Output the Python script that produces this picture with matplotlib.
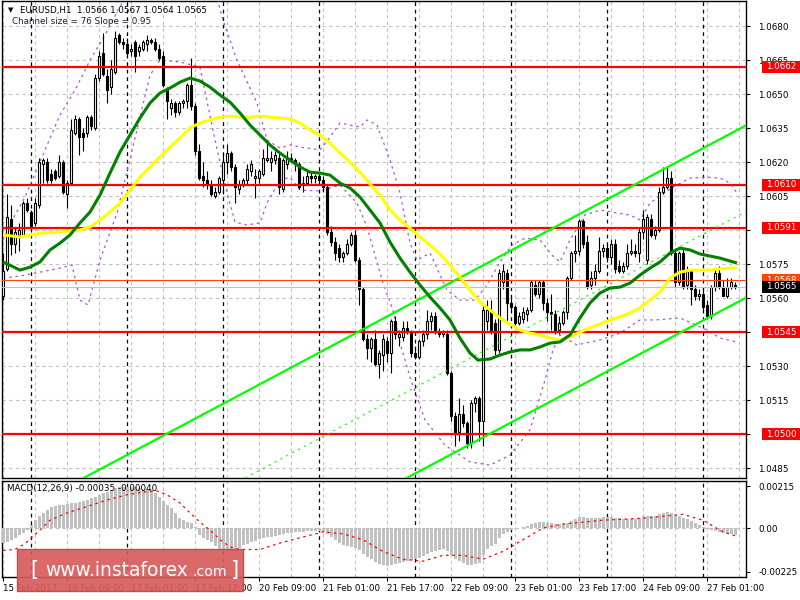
import matplotlib
matplotlib.use("Agg")
import matplotlib.pyplot as plt
import matplotlib.transforms as mtransforms
from matplotlib.patches import Rectangle
import numpy as np

# EURUSD H1, 15 Feb 2017 17:00 .. 27 Feb 2017 08:00
opens = [
    1.0561, 1.0573, 1.0595, 1.0584, 1.0588, 1.0588, 1.0602, 1.0598, 1.0593, 1.0601,
    1.0619, 1.0620, 1.0615, 1.0616, 1.0614, 1.0620, 1.0606, 1.0611, 1.0633, 1.0639,
    1.0633, 1.0633, 1.0640, 1.0635, 1.0657, 1.0668, 1.0658, 1.0653, 1.0660, 1.0676,
    1.0673, 1.0672, 1.0669, 1.0673, 1.0669, 1.0670, 1.0672, 1.0674, 1.0673, 1.0670,
    1.0667, 1.0652, 1.0644, 1.0646, 1.0642, 1.0646, 1.0647, 1.0654, 1.0645, 1.0625,
    1.0614, 1.0612, 1.0610, 1.0605, 1.0607, 1.0612, 1.0620, 1.0624, 1.0618, 1.0608,
    1.0610, 1.0612, 1.0616, 1.0613, 1.0613, 1.0615, 1.0621, 1.0620, 1.0621, 1.0622,
    1.0608, 1.0619, 1.0622, 1.0621, 1.0619, 1.0610, 1.0611, 1.0614, 1.0613, 1.0614,
    1.0612, 1.0609, 1.0589, 1.0585, 1.0582, 1.0578, 1.0580, 1.0584, 1.0588, 1.0577,
    1.0564, 1.0542, 1.0538, 1.0542, 1.0531, 1.0535, 1.0541, 1.0536, 1.0550, 1.0543,
    1.0543, 1.0547, 1.0545, 1.0536, 1.0534, 1.0541, 1.0544, 1.0550, 1.0552, 1.0545,
    1.0544, 1.0544, 1.0527, 1.0508, 1.0501, 1.0509, 1.0505, 1.0496, 1.0514, 1.0516,
    1.0506, 1.0550, 1.0555, 1.0549, 1.0537, 1.0567, 1.0571, 1.0558, 1.0556, 1.0549,
    1.0551, 1.0553, 1.0555, 1.0566, 1.0562, 1.0567, 1.0558, 1.0554, 1.0553, 1.0546,
    1.0549, 1.0554, 1.0569, 1.0580, 1.0581, 1.0594, 1.0585, 1.0566, 1.0569, 1.0572,
    1.0581, 1.0582, 1.0578, 1.0584, 1.0574, 1.0572, 1.0574, 1.0580, 1.0581, 1.0580,
    1.0589, 1.0577, 1.0595, 1.0588, 1.0590, 1.0607, 1.0609, 1.0613, 1.0580, 1.0567,
    1.0580, 1.0566, 1.0572, 1.0564, 1.0561, 1.0562, 1.0557, 1.0552, 1.0565, 1.0571,
    1.0565, 1.0561, 1.0565, 1.0566,
]
highs = [
    1.0580, 1.0606, 1.0601, 1.0591, 1.0593, 1.0603, 1.0604, 1.0599, 1.0604, 1.0622,
    1.0622, 1.0622, 1.0617, 1.0617, 1.0623, 1.0621, 1.0612, 1.0639, 1.0641, 1.0640,
    1.0635, 1.0641, 1.0641, 1.0659, 1.0669, 1.0677, 1.0661, 1.0665, 1.0678, 1.0677,
    1.0675, 1.0675, 1.0672, 1.0674, 1.0672, 1.0674, 1.0676, 1.0675, 1.0675, 1.0672,
    1.0669, 1.0653, 1.0648, 1.0647, 1.0647, 1.0648, 1.0655, 1.0666, 1.0646, 1.0628,
    1.0620, 1.0616, 1.0612, 1.0609, 1.0614, 1.0624, 1.0628, 1.0625, 1.0619, 1.0612,
    1.0613, 1.0619, 1.0621, 1.0617, 1.0617, 1.0626, 1.0630, 1.0625, 1.0625, 1.0624,
    1.0622, 1.0625, 1.0624, 1.0622, 1.0620, 1.0614, 1.0616, 1.0616, 1.0615, 1.0615,
    1.0614, 1.0610, 1.0592, 1.0587, 1.0584, 1.0581, 1.0586, 1.0589, 1.0590, 1.0578,
    1.0565, 1.0544, 1.0543, 1.0546, 1.0537, 1.0544, 1.0543, 1.0551, 1.0552, 1.0546,
    1.0550, 1.0550, 1.0546, 1.0539, 1.0542, 1.0546, 1.0555, 1.0554, 1.0554, 1.0547,
    1.0546, 1.0546, 1.0528, 1.0510, 1.0516, 1.0513, 1.0506, 1.0515, 1.0517, 1.0517,
    1.0557, 1.0559, 1.0559, 1.0551, 1.0573, 1.0575, 1.0573, 1.0560, 1.0557, 1.0554,
    1.0556, 1.0556, 1.0568, 1.0568, 1.0568, 1.0568, 1.0560, 1.0562, 1.0555, 1.0552,
    1.0555, 1.0570, 1.0581, 1.0588, 1.0595, 1.0595, 1.0588, 1.0572, 1.0575, 1.0587,
    1.0584, 1.0584, 1.0586, 1.0586, 1.0577, 1.0576, 1.0584, 1.0586, 1.0584, 1.0591,
    1.0599, 1.0597, 1.0597, 1.0592, 1.0609, 1.0618, 1.0618, 1.0616, 1.0581, 1.0581,
    1.0582, 1.0574, 1.0573, 1.0566, 1.0564, 1.0565, 1.0559, 1.0566, 1.0573, 1.0574,
    1.0568, 1.0569, 1.0569, 1.0567,
]
lows = [
    1.0559, 1.0572, 1.0579, 1.0580, 1.0581, 1.0587, 1.0598, 1.0589, 1.0592, 1.0600,
    1.0611, 1.0611, 1.0611, 1.0612, 1.0613, 1.0606, 1.0600, 1.0610, 1.0632, 1.0623,
    1.0625, 1.0631, 1.0634, 1.0634, 1.0656, 1.0658, 1.0646, 1.0650, 1.0659, 1.0672,
    1.0670, 1.0667, 1.0667, 1.0660, 1.0667, 1.0669, 1.0669, 1.0672, 1.0669, 1.0665,
    1.0653, 1.0639, 1.0641, 1.0640, 1.0641, 1.0644, 1.0644, 1.0643, 1.0623, 1.0612,
    1.0609, 1.0608, 1.0605, 1.0604, 1.0606, 1.0606, 1.0615, 1.0616, 1.0602, 1.0606,
    1.0609, 1.0610, 1.0614, 1.0604, 1.0611, 1.0614, 1.0620, 1.0616, 1.0619, 1.0606,
    1.0607, 1.0617, 1.0620, 1.0616, 1.0608, 1.0607, 1.0610, 1.0611, 1.0611, 1.0610,
    1.0607, 1.0588, 1.0583, 1.0577, 1.0576, 1.0576, 1.0579, 1.0583, 1.0576, 1.0557,
    1.0541, 1.0533, 1.0532, 1.0530, 1.0525, 1.0528, 1.0532, 1.0527, 1.0542, 1.0539,
    1.0541, 1.0544, 1.0534, 1.0533, 1.0533, 1.0539, 1.0542, 1.0546, 1.0544, 1.0543,
    1.0543, 1.0526, 1.0506, 1.0495, 1.0497, 1.0503, 1.0494, 1.0494, 1.0510, 1.0497,
    1.0495, 1.0546, 1.0544, 1.0535, 1.0536, 1.0564, 1.0550, 1.0555, 1.0548, 1.0548,
    1.0549, 1.0550, 1.0554, 1.0561, 1.0560, 1.0555, 1.0550, 1.0546, 1.0544, 1.0544,
    1.0548, 1.0551, 1.0568, 1.0576, 1.0579, 1.0582, 1.0564, 1.0564, 1.0566, 1.0571,
    1.0578, 1.0576, 1.0575, 1.0571, 1.0571, 1.0571, 1.0573, 1.0579, 1.0578, 1.0576,
    1.0586, 1.0575, 1.0587, 1.0586, 1.0589, 1.0606, 1.0608, 1.0579, 1.0565, 1.0566,
    1.0564, 1.0564, 1.0557, 1.0559, 1.0559, 1.0555, 1.0551, 1.0551, 1.0563, 1.0564,
    1.0561, 1.0560, 1.0564, 1.0564,
]
closes = [
    1.0572, 1.0596, 1.0584, 1.0589, 1.0590, 1.0602, 1.0599, 1.0592, 1.0602, 1.0620,
    1.0621, 1.0612, 1.0612, 1.0613, 1.0620, 1.0607, 1.0611, 1.0634, 1.0639, 1.0631,
    1.0631, 1.0640, 1.0636, 1.0657, 1.0667, 1.0659, 1.0652, 1.0661, 1.0675, 1.0673,
    1.0672, 1.0668, 1.0670, 1.0667, 1.0671, 1.0673, 1.0674, 1.0673, 1.0670, 1.0666,
    1.0654, 1.0647, 1.0646, 1.0642, 1.0646, 1.0647, 1.0654, 1.0645, 1.0625, 1.0613,
    1.0612, 1.0610, 1.0606, 1.0607, 1.0613, 1.0620, 1.0624, 1.0618, 1.0609, 1.0610,
    1.0612, 1.0617, 1.0619, 1.0614, 1.0616, 1.0622, 1.0622, 1.0622, 1.0623, 1.0609,
    1.0621, 1.0622, 1.0621, 1.0619, 1.0609, 1.0611, 1.0614, 1.0613, 1.0614, 1.0612,
    1.0609, 1.0589, 1.0585, 1.0580, 1.0578, 1.0580, 1.0584, 1.0588, 1.0577, 1.0564,
    1.0542, 1.0538, 1.0542, 1.0531, 1.0536, 1.0542, 1.0536, 1.0550, 1.0544, 1.0544,
    1.0547, 1.0545, 1.0536, 1.0534, 1.0541, 1.0544, 1.0550, 1.0552, 1.0545, 1.0544,
    1.0545, 1.0527, 1.0508, 1.0501, 1.0509, 1.0505, 1.0496, 1.0514, 1.0516, 1.0506,
    1.0555, 1.0555, 1.0545, 1.0537, 1.0571, 1.0572, 1.0558, 1.0556, 1.0549, 1.0552,
    1.0554, 1.0555, 1.0567, 1.0562, 1.0567, 1.0558, 1.0554, 1.0553, 1.0546, 1.0549,
    1.0554, 1.0569, 1.0580, 1.0581, 1.0594, 1.0584, 1.0565, 1.0569, 1.0572, 1.0581,
    1.0582, 1.0578, 1.0584, 1.0573, 1.0572, 1.0574, 1.0580, 1.0581, 1.0580, 1.0589,
    1.0595, 1.0596, 1.0588, 1.0590, 1.0607, 1.0609, 1.0613, 1.0580, 1.0567, 1.0580,
    1.0565, 1.0572, 1.0564, 1.0561, 1.0562, 1.0556, 1.0552, 1.0565, 1.0571, 1.0565,
    1.0561, 1.0565, 1.0567, 1.0565,
]

# moving averages (bar position, price)
green_ma_at = [0, 4.25, 6.75, 9.25, 11.75, 14.25, 16.75, 19.25, 21.75, 24.25,
               26.75, 29.25, 31.75, 34.25, 36.75, 39.25, 41.75, 44.25, 46.75, 49.25,
               51.75, 54.25, 56.75, 59.25, 61.75, 64.25, 66.75, 69.25, 71.75, 74.25,
               76.75, 79.25, 81.75, 84.25, 86.75, 89.25, 91.75, 94.25, 96.75, 99.25,
               101.75, 104.25, 106.75, 109.25, 111.75, 114.25, 116.75, 118.75, 121.75, 124.25,
               126.75, 129.25, 131.75, 134.25, 136.75, 139.25, 141.75, 144.25, 146.75, 149.25,
               151.75, 154.25, 156.75, 159.25, 161.75, 164.25, 166.75, 169.25, 171.75, 174.25,
               176.75, 179.25, 181.75, 183.5]
green_ma = [1.05760, 1.05724, 1.05737, 1.05760, 1.05813, 1.05843, 1.05879, 1.05932, 1.05980, 1.06055,
            1.06152, 1.06245, 1.06320, 1.06395, 1.06461, 1.06505, 1.06527, 1.06553, 1.06571, 1.06558,
            1.06531, 1.06496, 1.06465, 1.06417, 1.06364, 1.06320, 1.06276, 1.06240, 1.06209, 1.06179,
            1.06156, 1.06152, 1.06143, 1.06108, 1.06086, 1.06046, 1.05989, 1.05932, 1.05848, 1.05777,
            1.05715, 1.05658, 1.05605, 1.05557, 1.05504, 1.05424, 1.05358, 1.05327, 1.05332, 1.05349,
            1.05363, 1.05372, 1.05372, 1.05385, 1.05402, 1.05407, 1.05438, 1.05513, 1.05579, 1.05623,
            1.05645, 1.05649, 1.05667, 1.05702, 1.05733, 1.05760, 1.05799, 1.05821, 1.05813, 1.05795,
            1.05786, 1.05777, 1.05764, 1.05755]

yellow_ma_at = [0, 4.25, 9.25, 14.25, 19.25, 21.75, 24.25, 26.75, 29.25, 31.75,
                34.25, 36.75, 39.25, 41.75, 44.25, 46.75, 49.25, 51.75, 54.25, 56.75,
                59.25, 61.75, 64.25, 66.75, 69.25, 71.75, 74.25, 76.75, 79.25, 81.75,
                84.25, 86.75, 89.25, 91.75, 94.25, 96.75, 99.25, 101.75, 104.25, 106.75,
                109.25, 111.75, 114.25, 116.75, 119.25, 121.75, 124.25, 126.75, 129.25, 131.75,
                134.25, 136.75, 139.25, 141.75, 144.25, 146.75, 149.25, 151.75, 154.25, 156.75,
                159.25, 161.75, 164.25, 166.75, 169.25, 171.75, 174.25, 176.75, 179.25, 181.75,
                183.5]
yellow_ma = [1.05879, 1.05870, 1.05887, 1.05892, 1.05901, 1.05914, 1.05945, 1.05980, 1.06020, 1.06077,
             1.06134, 1.06179, 1.06223, 1.06267, 1.06306, 1.06351, 1.06373, 1.06386, 1.06399, 1.06403,
             1.06399, 1.06399, 1.06403, 1.06399, 1.06395, 1.06390, 1.06373, 1.06342, 1.06320, 1.06284,
             1.06240, 1.06201, 1.06156, 1.06104, 1.06055, 1.05989, 1.05945, 1.05909, 1.05870, 1.05835,
             1.05795, 1.05746, 1.05693, 1.05636, 1.05583, 1.05548, 1.05513, 1.05486, 1.05460, 1.05446,
             1.05438, 1.05424, 1.05416, 1.05429, 1.05451, 1.05469, 1.05486, 1.05504, 1.05517, 1.05535,
             1.05557, 1.05592, 1.05627, 1.05689, 1.05715, 1.05724, 1.05724, 1.05724, 1.05729, 1.05733,
             1.05733]

# envelope bands (purple dotted) (bar position, price)
band_upper_at = [0, 3, 5.5, 10.5, 14.25, 18, 21.75, 25.5, 28.75, 31.75,
                 53, 55, 58.5, 61.75, 63.5, 66, 69.25, 71.75, 74.25, 79.25,
                 81.75, 84.25, 86.75, 89.25, 91, 93.5, 96.75, 99.25, 101.75, 103.5,
                 106.75, 111, 114.25, 118, 121, 124.25, 127.25, 130.5, 134.25, 137.25,
                 139.25, 141.75, 145.5, 149.25, 153.5, 156.75, 159.25, 161.75, 167.5, 171.75,
                 176, 179.25, 181.75, 183.5]
band_upper = [1.05857, 1.05967, 1.06046, 1.06254, 1.06408, 1.06518, 1.06650, 1.06761, 1.06871, 1.06959,
              1.06959, 1.06827, 1.06650, 1.06527, 1.06461, 1.06298, 1.06262, 1.06276, 1.06267, 1.06254,
              1.06311, 1.06373, 1.06364, 1.06355, 1.06386, 1.06364, 1.06210, 1.06064, 1.05843, 1.05768,
              1.05799, 1.05636, 1.05592, 1.05592, 1.05658, 1.05760, 1.05835, 1.05865, 1.05857, 1.05790,
              1.05760, 1.05857, 1.05967, 1.05989, 1.05976, 1.05967, 1.05945, 1.06020, 1.06090, 1.06130,
              1.06134, 1.06130, 1.06108, 1.06064]
band_lower_at = [0, 4.25, 9.25, 14.25, 17.25, 19.25, 21.25, 24.25, 28.5, 33.5,
                 36.75, 39.25, 44.25, 49.25, 53, 56, 58, 61, 64.25, 66,
                 69.25, 71.75, 74.25, 79.25, 84.25, 88.5, 91, 95, 97.5, 99.25,
                 101.75, 105.5, 110.5, 116.75, 121.75, 126.75, 131.75, 135.5, 137.5, 139.25,
                 143.5, 149.25, 154.25, 159.25, 163, 169.25, 176, 179.25, 183.5]
band_lower = [1.05689, 1.05698, 1.05715, 1.05733, 1.05746, 1.05592, 1.05570, 1.05768, 1.05976, 1.06342,
              1.06584, 1.06650, 1.06642, 1.06620, 1.06298, 1.06064, 1.05936, 1.05923, 1.05932, 1.06020,
              1.06121, 1.06134, 1.06077, 1.06073, 1.06099, 1.06020, 1.05914, 1.05667, 1.05548, 1.05402,
              1.05252, 1.05063, 1.04952, 1.04878, 1.04864, 1.04908, 1.05019, 1.05239, 1.05372, 1.05438,
              1.05394, 1.05416, 1.05446, 1.05504, 1.05504, 1.05513, 1.05460, 1.05424, 1.05407]

# MACD(12,26,9): main line as histogram, signal as dotted line
macd_main = [
    -0.00077, -0.00070, -0.00061, -0.00050, -0.00036, -0.00025, -0.00010, 0.00015,
    0.00040, 0.00060, 0.00075, 0.00090, 0.00108, 0.00113, 0.00118, 0.00120,
    0.00123, 0.00128, 0.00130, 0.00133, 0.00138, 0.00145, 0.00154, 0.00160,
    0.00169, 0.00178, 0.00186, 0.00195, 0.00203, 0.00210, 0.00212, 0.00212,
    0.00210, 0.00208, 0.00205, 0.00202, 0.00198, 0.00195, 0.00180, 0.00159,
    0.00140, 0.00120, 0.00102, 0.00075, 0.00051, 0.00040, 0.00032, 0.00026,
    0.00005, -0.00036, -0.00050, -0.00060, -0.00072, -0.00090, -0.00113, -0.00113,
    -0.00115, -0.00113, -0.00110, -0.00100, -0.00087, -0.00080, -0.00072, -0.00065,
    -0.00056, -0.00052, -0.00048, -0.00046, -0.00042, -0.00036, -0.00030, -0.00028,
    -0.00026, -0.00023, -0.00020, -0.00018, -0.00016, -0.00015, -0.00015, -0.00016,
    -0.00020, -0.00030, -0.00045, -0.00060, -0.00075, -0.00085, -0.00090, -0.00095,
    -0.00100, -0.00115, -0.00135, -0.00150, -0.00160, -0.00175, -0.00185, -0.00190,
    -0.00195, -0.00190, -0.00185, -0.00180, -0.00175, -0.00170, -0.00165, -0.00160,
    -0.00155, -0.00145, -0.00135, -0.00125, -0.00120, -0.00115, -0.00110, -0.00120,
    -0.00140, -0.00160, -0.00170, -0.00180, -0.00190, -0.00190, -0.00185, -0.00180,
    -0.00140, -0.00110, -0.00090, -0.00080, -0.00050, -0.00030, -0.00020, -0.00010,
    -0.00005, 0.00000, 0.00005, 0.00010, 0.00020, 0.00025, 0.00030, 0.00030,
    0.00028, 0.00025, 0.00020, 0.00018, 0.00018, 0.00025, 0.00035, 0.00045,
    0.00055, 0.00055, 0.00050, 0.00050, 0.00050, 0.00052, 0.00054, 0.00055,
    0.00055, 0.00052, 0.00050, 0.00048, 0.00048, 0.00048, 0.00048, 0.00052,
    0.00060, 0.00060, 0.00060, 0.00063, 0.00070, 0.00075, 0.00080, 0.00075,
    0.00065, 0.00060, 0.00050, 0.00045, 0.00035, 0.00025, 0.00015, 0.00005,
    -0.00005, -0.00010, -0.00015, -0.00020, -0.00025, -0.00030, -0.00033, -0.00035,
]
signal_at = [0, 3, 5.5, 9.25, 11.75, 16, 21, 26, 31, 35, 38.5, 41, 44.25, 46.75,
             49.25, 51.75, 54.25, 56.75, 59.25, 64.25, 69.25, 74.25, 80, 85, 90, 95,
             100, 105, 110, 115, 120, 125, 130, 135, 140, 145, 150, 160, 165, 170,
             175, 180, 183]
signal = [-0.00115, -0.00110, -0.00080, -0.00010, 0.00040, 0.00077, 0.00110, 0.00143,
          0.00170, 0.00184, 0.00190, 0.00170, 0.00128, 0.00077, 0.00030, -0.00010,
          -0.00060, -0.00097, -0.00110, -0.00110, -0.00077, -0.00050, -0.00020, -0.00030,
          -0.00060, -0.00120, -0.00160, -0.00170, -0.00140, -0.00140, -0.00160, -0.00120,
          -0.00060, 0.00000, 0.00020, 0.00030, 0.00040, 0.00050, 0.00060, 0.00070,
          0.00040, -0.00020, -0.00040]

# price levels
red_levels = [1.0662, 1.0610, 1.0591, 1.0545, 1.0500]
ask_price = 1.0568
bid_price = 1.0565

# regression channel: two points on the upper and lower borders (bar, price)
chan_upper = [(20.5, 1.0481), (185.5, 1.0636)]
chan_lower = [(101.25, 1.0481), (185.5, 1.0560)]

# time axis
date_labels = ["15 Feb 2017", "16 Feb 09:00", "17 Feb 01:00", "17 Feb 17:00",
               "20 Feb 09:00", "21 Feb 01:00", "21 Feb 17:00", "22 Feb 09:00",
               "23 Feb 01:00", "23 Feb 17:00", "24 Feb 09:00", "27 Feb 01:00"]
date_label_bars = [0, 16, 32, 48, 64, 80, 96, 112, 128, 144, 160, 176]
day_start_bars = [7, 31, 55, 79, 103, 127, 151, 175]
price_ticks = [1.0485, 1.0500, 1.0515, 1.0530, 1.0545, 1.0560, 1.0575,
               1.0590, 1.0605, 1.0620, 1.0635, 1.0650, 1.0665, 1.0680]
# scale labels that the level boxes hide completely
hidden_ticks = [1.0500, 1.0545, 1.0590]
macd_ticks = [0.00215, 0.0, -0.00225]
macd_tick_labels = ["0.00215", "0.00", "-0.00225"]

W, H = 800, 600
FS = 6.3
plt.rcParams["font.family"] = "DejaVu Sans"

fig = plt.figure(figsize=(W / 100, H / 100), dpi=100)


def px_axes(x0, y0, x1, y1):
    return fig.add_axes([x0 / W, 1 - y1 / H, (x1 - x0) / W, (y1 - y0) / H])


ax = px_axes(2, 1, 746, 478)
mx = px_axes(2, 481, 746, 577)

x_lim = (-0.25, 185.75)
n = len(closes)
bars = np.arange(n)
o = np.array(opens)
c = np.array(closes)
h = np.array(highs)
l = np.array(lows)

grid_kw = dict(color="#c0c0c0", lw=0.8, ls=(0, (3, 3)), zorder=1)
sep_kw = dict(color="black", lw=0.9, ls=(0, (3, 3)), zorder=2)

for a in (ax, mx):
    a.set_xlim(*x_lim)
    for b in range(0, 186, 8):
        a.axvline(b, **grid_kw)
    for b in day_start_bars:
        a.axvline(b, **sep_kw)
    for s in a.spines.values():
        s.set_color("black")
        s.set_linewidth(1.0)

# ---- main price panel
ax.set_ylim(1.04807, 1.06911)
for p in price_ticks:
    ax.axhline(p, **grid_kw)

ax.plot(band_upper_at, band_upper, color="#b050d8", lw=0.9, ls=(0, (2, 3)), zorder=3)
ax.plot(band_lower_at, band_lower, color="#b050d8", lw=0.9, ls=(0, (2, 3)), zorder=3)

ax.vlines(bars, l, h, color="black", lw=0.8, zorder=4)
body_lo = np.minimum(o, c)
body_h = np.maximum(np.abs(c - o), 0.00003)
up = c >= o
ax.bar(bars[up], body_h[up], bottom=body_lo[up], width=0.7,
       color="white", edgecolor="black", lw=0.8, zorder=5)
ax.bar(bars[~up], body_h[~up], bottom=body_lo[~up], width=0.7,
       color="black", edgecolor="black", lw=0.8, zorder=5)

for lv in red_levels:
    ax.axhline(lv, color="#ff0000", lw=1.6, zorder=6)
ax.axhline(ask_price, color="#ff4500", lw=0.8, zorder=6)
ax.axhline(bid_price, color="#c0c0c0", lw=0.8, zorder=6)

ax.axline(chan_upper[0], chan_upper[1], color="#00ff00", lw=1.6, zorder=6)
ax.axline(chan_lower[0], chan_lower[1], color="#00ff00", lw=1.6, zorder=6)
lower_slope = (chan_lower[1][1] - chan_lower[0][1]) / (chan_lower[1][0] - chan_lower[0][0])
lower_at_u0 = chan_lower[0][1] + lower_slope * (chan_upper[0][0] - chan_lower[0][0])
mid_a = (chan_upper[0][0], (chan_upper[0][1] + lower_at_u0) / 2)
mid_b = (chan_upper[1][0], (chan_upper[1][1] + chan_lower[1][1]) / 2)
ax.axline(mid_a, mid_b, color="#00ff00", lw=0.8, ls=(0, (2, 4)), zorder=6)

ax.plot(yellow_ma_at, yellow_ma, color="#ffff00", lw=2.2, zorder=7, solid_capstyle="butt")
ax.plot(green_ma_at, green_ma, color="#008000", lw=2.2, zorder=7, solid_capstyle="butt")

ax.set_xticks([])
ax.yaxis.tick_right()
ax.set_yticks(price_ticks)
ax.set_yticklabels(["" if p in hidden_ticks else f"{p:.4f}" for p in price_ticks])
ax.tick_params(axis="y", length=3, width=0.8, pad=6, labelsize=FS, colors="black")

# price boxes on the right scale
trans = mtransforms.blended_transform_factory(ax.transAxes, ax.transData)
box_x0 = (762 - 2) / 744
box_w = 40 / 744
box_h = 12 * (1.06911 - 1.04807) / 477
txt_x = (766 - 2) / 744


def price_box(price, fc, z):
    ax.add_patch(Rectangle((box_x0, price - box_h / 2), box_w, box_h, transform=trans,
                           fc=fc, ec="none", clip_on=False, zorder=z))
    ax.text(txt_x, price, f"{price:.4f}", transform=trans, ha="left", va="center",
            fontsize=FS, color="white", zorder=z + 1, clip_on=False)


for lv in red_levels:
    price_box(lv, "#ff0000", 20)
price_box(ask_price, "#ff4500", 22)
price_box(bid_price, "black", 24)

# ---- MACD panel
mx.set_ylim(-0.0025088, 0.0024064)
mx.axhline(0, **grid_kw)
mx.bar(bars, macd_main, width=0.75, color="#c0c0c0", zorder=3)
mx.plot(signal_at, signal, color="#ff0000", lw=0.9, ls=(0, (2, 3)), zorder=4)
mx.yaxis.tick_right()
mx.set_yticks(macd_ticks)
mx.set_yticklabels(macd_tick_labels)
mx.tick_params(axis="y", length=3, width=0.8, pad=6, labelsize=FS, colors="black")
mx.set_xticks(date_label_bars)
mx.set_xticklabels(date_labels, ha="left")
mx.tick_params(axis="x", length=3, width=0.8, pad=2, labelsize=FS, colors="black")

# ---- header texts
fig.text(8 / W, 1 - 10 / H, "\u25bc", fontsize=5, va="center", ha="left")
fig.text(20 / W, 1 - 10 / H, "EURUSD,H1  1.0566 1.0567 1.0564 1.0565",
         fontsize=FS, va="center", ha="left")
fig.text(12 / W, 1 - 22 / H, "Channel size = 76 Slope = 0.95",
         fontsize=FS, va="center", ha="left", color="#1a1a40")
fig.text(7 / W, 1 - 489 / H, "MACD(12,26,9) -0.00035 -0.00040",
         fontsize=FS, va="center", ha="left")

# ---- watermark
fig.patches.append(Rectangle((17 / W, 1 - 591 / H), 226 / W, 42 / H,
                             transform=fig.transFigure, fc="#d95c5c", ec="#c04848",
                             lw=1.0, alpha=0.92, zorder=30))
fig.text(30 / W, 1 - 570 / H, "[", fontsize=15, color="white", va="center",
         ha="left", zorder=31)
fig.text(45 / W, 1 - 570 / H, "www.instaforex", fontsize=13.4, color="white",
         va="center", ha="left", zorder=31)
fig.text(193 / W, 1 - 572 / H, ".com", fontsize=10.2, color="white",
         va="center", ha="left", zorder=31)
fig.text(231 / W, 1 - 570 / H, "]", fontsize=15, color="white", va="center",
         ha="left", zorder=31)

fig.savefig("out.png", dpi=100, facecolor="white")
